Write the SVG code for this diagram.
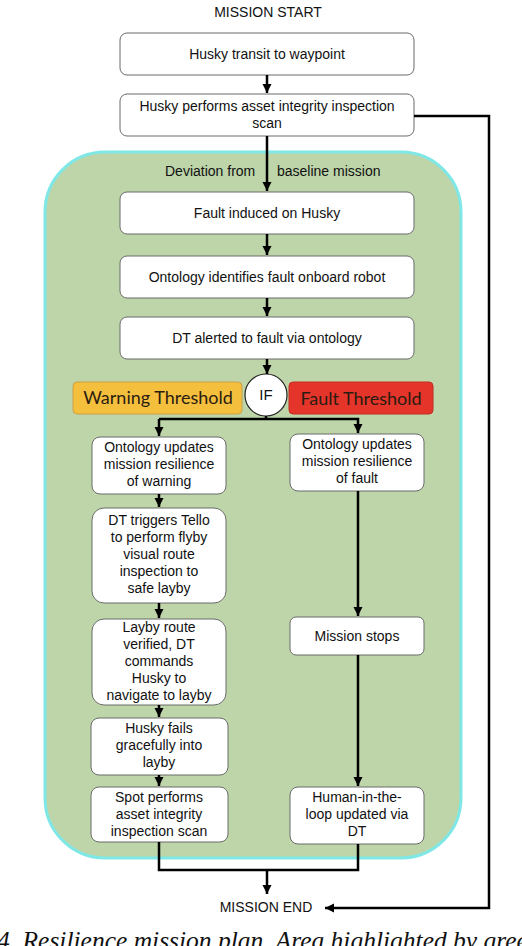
<svg xmlns="http://www.w3.org/2000/svg" width="522" height="946" viewBox="0 0 522 946">
<style>
.bg{fill:#ffffff}
.box{fill:#ffffff;stroke:#6b6b6b;stroke-width:1}
.t{font-family:"Liberation Sans",Arial,sans-serif;font-size:14px;fill:#111;text-anchor:middle}
.lbl{font-family:"Liberation Sans",Arial,sans-serif;font-size:14px;fill:#111}
.th{font-family:Lato,"Liberation Sans",sans-serif;font-size:18px;fill:#2a1c10;text-anchor:middle}
.ln{fill:none;stroke:#000;stroke-width:2.5}
.cap{font-family:"Liberation Serif","Times New Roman",serif;font-style:italic;font-size:25.5px;fill:#111}
</style>
<defs>
<marker id="ah" markerUnits="userSpaceOnUse" markerWidth="10" markerHeight="10" refX="9" refY="5" orient="auto">
<path d="M0,0.5 L9,5 L0,9.5 z" fill="#000"/>
</marker>
</defs>
<rect class="bg" x="0" y="0" width="522" height="946"/>
<g id="region">
<rect x="45" y="152" width="416" height="706" rx="60" fill="#bdd5a9" stroke="#7fe8e6" stroke-width="3"/>
<text class="lbl" x="165" y="176">Deviation from</text>
<text class="lbl" x="277" y="176">baseline mission</text>
</g>
<g id="start"><text class="t" x="268" y="17">MISSION START</text></g>
<g id="n1"><rect class="box" x="120" y="33" width="294" height="42" rx="7"/><text class="t" x="267" y="59">Husky transit to waypoint</text></g>
<g id="n2"><rect class="box" x="120" y="94" width="294" height="42" rx="7"/><text class="t" x="267" y="111">Husky performs asset integrity inspection</text><text class="t" x="267" y="128">scan</text></g>
<g id="n3"><rect class="box" x="120" y="192" width="294" height="42" rx="7"/><text class="t" x="267" y="218">Fault induced on Husky</text></g>
<g id="n4"><rect class="box" x="120" y="256" width="294" height="42" rx="7"/><text class="t" x="267" y="282">Ontology identifies fault onboard robot</text></g>
<g id="n5"><rect class="box" x="120" y="317" width="294" height="42" rx="7"/><text class="t" x="267" y="343">DT alerted to fault via ontology</text></g>
<g id="warn"><rect x="73" y="382" width="169" height="32" rx="4" fill="#f5bf3e" stroke="#caa04a" stroke-width="1"/><text class="th" x="158" y="404">Warning Threshold</text></g>
<g id="fault"><rect x="289" y="382" width="144" height="32" rx="4" fill="#e5342a" stroke="#c22c24" stroke-width="1"/><text class="th" x="361" y="405">Fault Threshold</text></g>
<g id="if"><circle cx="266" cy="395" r="21" fill="#ffffff" stroke="#222" stroke-width="1.2"/><text class="t" x="266" y="400" style="font-size:15px">IF</text></g>
<g id="w1"><rect class="box" x="92" y="437" width="134" height="57" rx="8"/><text class="t" x="159" y="452">Ontology updates</text><text class="t" x="159" y="469">mission resilience</text><text class="t" x="159" y="486">of warning</text></g>
<g id="w2"><rect class="box" x="92" y="508" width="134" height="95" rx="12"/><text class="t" x="159" y="525">DT triggers Tello</text><text class="t" x="159" y="542">to perform flyby</text><text class="t" x="159" y="559">visual route</text><text class="t" x="159" y="576">inspection to</text><text class="t" x="159" y="593">safe layby</text></g>
<g id="w3"><rect class="box" x="92" y="619" width="134" height="86" rx="12"/><text class="t" x="159" y="632">Layby route</text><text class="t" x="159" y="649">verified, DT</text><text class="t" x="159" y="666">commands</text><text class="t" x="159" y="683">Husky to</text><text class="t" x="159" y="700">navigate to layby</text></g>
<g id="w4"><rect class="box" x="91" y="718" width="137" height="57" rx="8"/><text class="t" x="159" y="733">Husky fails</text><text class="t" x="159" y="750">gracefully into</text><text class="t" x="159" y="767">layby</text></g>
<g id="w5"><rect class="box" x="91" y="787" width="137" height="55" rx="8"/><text class="t" x="159" y="802">Spot performs</text><text class="t" x="159" y="819">asset integrity</text><text class="t" x="159" y="836">inspection scan</text></g>
<g id="f1"><rect class="box" x="290" y="434" width="134" height="57" rx="8"/><text class="t" x="357" y="449">Ontology updates</text><text class="t" x="357" y="466">mission resilience</text><text class="t" x="357" y="483">of fault</text></g>
<g id="f2"><rect class="box" x="290" y="617" width="134" height="38" rx="6"/><text class="t" x="357" y="641">Mission stops</text></g>
<g id="f3"><rect class="box" x="290" y="787" width="134" height="57" rx="8"/><text class="t" x="357" y="802">Human-in-the-</text><text class="t" x="357" y="819">loop updated via</text><text class="t" x="357" y="836">DT</text></g>
<g id="end"><text class="t" x="266" y="912">MISSION END</text></g>
<g id="connectors">
<path class="ln" d="M267,75 V93" marker-end="url(#ah)"/>
<path class="ln" d="M267,136 V191" marker-end="url(#ah)"/>
<path class="ln" d="M267,234 V255" marker-end="url(#ah)"/>
<path class="ln" d="M267,298 V316" marker-end="url(#ah)"/>
<path class="ln" d="M267,359 V374" marker-end="url(#ah)"/>
<path class="ln" d="M266,416 V419"/>
<path class="ln" d="M159,419 H358 V433" marker-end="url(#ah)"/>
<path class="ln" d="M159,419 V436" marker-end="url(#ah)"/>
<path class="ln" d="M159,494 V507" marker-end="url(#ah)"/>
<path class="ln" d="M159,603 V618" marker-end="url(#ah)"/>
<path class="ln" d="M159,705 V717" marker-end="url(#ah)"/>
<path class="ln" d="M159,775 V786" marker-end="url(#ah)"/>
<path class="ln" d="M358,491 V616" marker-end="url(#ah)"/>
<path class="ln" d="M358,655 V786" marker-end="url(#ah)"/>
<path class="ln" d="M159,842 V870 H358 V844"/>
<path class="ln" d="M267,870 V894" marker-end="url(#ah)"/>
<path class="ln" d="M414,116 H489 V908 H325" marker-end="url(#ah)"/>
</g>
<text class="cap" x="-3" y="949">4. Resilience mission plan. Area highlighted by green</text>
</svg>
